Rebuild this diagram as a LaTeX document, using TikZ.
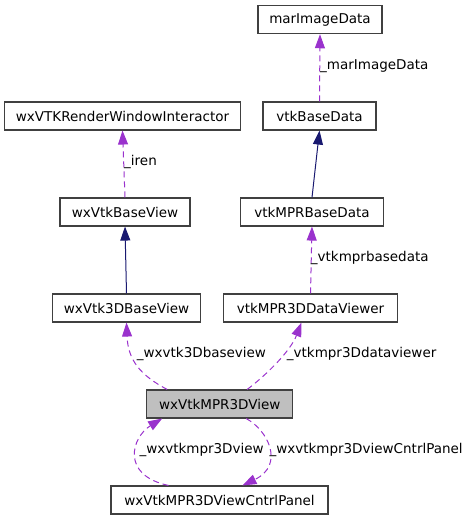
\documentclass[tikz,border=0pt]{standalone}
\usepackage{fontspec}
\setmainfont{DejaVu Sans}
\usetikzlibrary{arrows.meta}
\definecolor{edgepurple}{HTML}{9A32CD}
\definecolor{edgenavy}{HTML}{191970}
\definecolor{boxline}{HTML}{404040}
\definecolor{mainfill}{HTML}{BFBFBF}
\tikzset{
  cls/.style={draw=boxline, line width=1.1pt, inner sep=0pt, minimum height=28pt,
    font=\fontsize{13.5}{16}\selectfont, anchor=center},
  mainbox/.style={cls, fill=mainfill},
  dep/.style={draw=edgepurple, line width=1pt, dash pattern=on 6pt off 4pt,
    -{Triangle[length=14pt,width=10pt,fill=edgepurple]}},
  inh/.style={draw=edgenavy, line width=1pt,
    -{Triangle[length=14pt,width=10pt,fill=edgenavy]}},
  lbl/.style={font=\fontsize{13.5}{16}\selectfont, anchor=west, inner sep=0pt}
}
\begin{document}
\begin{tikzpicture}[x=1pt,y=-1pt]
\useasboundingbox (0,0) rectangle (469,520);
% nodes
\node[cls, minimum width=124pt] (marImageData) at (320,19.7) {marImageData};
\node[cls, minimum width=113pt] (vtkBaseData) at (319.5,116) {vtkBaseData};
\node[cls, minimum width=236pt] (wxVTKRWI) at (122.5,116) {wxVTKRenderWindowInteractor};
\node[cls, minimum width=130pt] (wxVtkBaseView) at (125,212) {wxVtkBaseView};
\node[cls, minimum width=143pt] (vtkMPRBaseData) at (312,212) {vtkMPRBaseData};
\node[cls, minimum width=148.5pt] (wxVtk3DBaseView) at (126.5,308) {wxVtk3DBaseView};
\node[cls, minimum width=173.6pt] (vtkMPR3DDataViewer) at (310.5,308) {vtkMPR3DDataViewer};
\node[mainbox, minimum width=146pt] (mpr) at (219.7,404) {wxVtkMPR3DView};
\node[cls, minimum width=217pt] (panel) at (219.5,500) {wxVtkMPR3DViewCntrlPanel};
% edges
\draw[dep] (vtkBaseData.north) -- (marImageData.south);
\node[lbl] (l1) at (320,66) {\_marImageData};
\draw[inh] (vtkMPRBaseData.north) -- (vtkBaseData.south);
\draw[dep] (wxVtkBaseView.north) -- (wxVTKRWI.south);
\node[lbl] (l2) at (124,162) {\_iren};
\draw[inh] (wxVtk3DBaseView.north) -- (wxVtkBaseView.south);
\draw[dep] (vtkMPR3DDataViewer.north) -- (vtkMPRBaseData.south);
\node[lbl] (l3) at (310.7,258) {\_vtkmprbasedata};
\draw[dep] ([xshift=21pt]mpr.north west) .. controls (140,375) and (128,360) .. (wxVtk3DBaseView.south);
\node[lbl] (l4) at (136.7,354) {\_wxvtk3Dbaseview};
\draw[dep] ([xshift=101pt]mpr.north west) .. controls (265,376) and (290,352) .. ([xshift=-9pt]vtkMPR3DDataViewer.south);
\node[lbl] (l5) at (286.7,354) {\_vtkmpr3Ddataviewer};
\draw[dep] ([xshift=58pt]panel.north west) .. controls (120,475) and (132,437) .. ([xshift=16pt]mpr.south west);
\node[lbl] (l6) at (139.3,450) {\_wxvtkmpr3Dview};
\draw[dep] ([xshift=100pt]mpr.south west) .. controls (268,430) and (285,465) .. ([xshift=132pt]panel.north west);
\node[lbl] (l7) at (269.3,450) {\_wxvtkmpr3DviewCntrlPanel};
\end{tikzpicture}
\end{document}
